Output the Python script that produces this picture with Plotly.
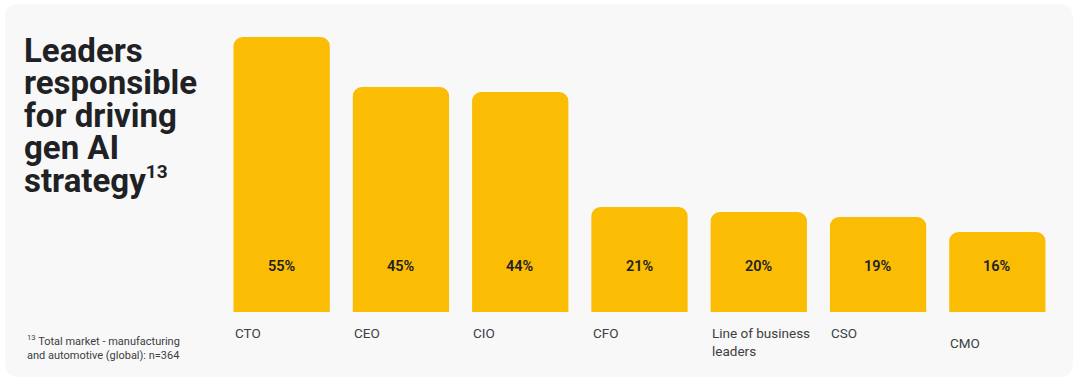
import plotly.graph_objects as go

categories = ["CTO", "CEO", "CIO", "CFO", "Line of business<br>leaders", "CSO", "CMO"]
values = [55, 45, 44, 21, 20, 19, 16]
value_labels = ["55%", "45%", "44%", "21%", "20%", "19%", "16%"]
title_lines = ["Leaders", "responsible", "for driving", "gen AI",
               "strategy<sup><span style='font-size:19px'>13</span></sup>"]
footnote = "<sup>13</sup> Total market - manufacturing<br>and automotive (global): n=364"

W, H = 1080, 384
L, R, T, B = 222, 23, 12, 72
PW, PH = W - L - R, H - T - B


def px(x):
    return (x - L) / PW


def py(y):
    return (H - B - y) / PH


YELLOW = "#FBBC04"
x_idx = list(range(len(categories)))

fig = go.Figure()
fig.add_trace(go.Bar(
    x=x_idx, y=values, marker=dict(color=YELLOW, line=dict(width=0)),
    hoverinfo="skip", showlegend=False,
))

annotations = []
# value labels placed at a fixed height inside each bar
label_level = 9.2
for i, v in enumerate(value_labels):
    annotations.append(dict(
        x=i, y=label_level, xref="x", yref="y", text=v, showarrow=False,
        font=dict(family="Roboto", size=14.5, color="#202124", weight=600),
        xanchor="center", yanchor="middle",
    ))

# category labels, left aligned with bar edges
for i, c in enumerate(categories):
    shift = -11
    if c == "CMO":
        shift = -21
    annotations.append(dict(
        x=i, y=0, xref="x", yref="paper", text=c, showarrow=False,
        font=dict(family="Roboto", size=13.5, color="#3c4043"),
        xanchor="left", yanchor="top", xshift=-49, yshift=shift, align="left",
    ))

# title lines
first_mid = 50
pitch = 32.5
for k, line in enumerate(title_lines):
    annotations.append(dict(
        x=px(22), y=py(first_mid + k * pitch), xref="paper", yref="paper",
        text=line, showarrow=False,
        font=dict(family="Roboto", size=33, color="#202124", weight=700),
        xanchor="left", yanchor="middle", align="left",
    ))

annotations.append(dict(
    x=px(25), y=py(347), xref="paper", yref="paper", text=footnote,
    showarrow=False, font=dict(family="Roboto", size=11, color="#3c4043"),
    xanchor="left", yanchor="middle", align="left",
))

# rounded background panel
x0, x1, y0, y1, rad = 5, 1073, 4, 377, 14
rx, ry = rad / PW, rad / PH
X0, X1, Y0, Y1 = px(x0), px(x1), py(y1), py(y0)
path = (f"M {X0+rx},{Y0} L {X1-rx},{Y0} Q {X1},{Y0} {X1},{Y0+ry} "
        f"L {X1},{Y1-ry} Q {X1},{Y1} {X1-rx},{Y1} L {X0+rx},{Y1} "
        f"Q {X0},{Y1} {X0},{Y1-ry} L {X0},{Y0+ry} Q {X0},{Y0} {X0+rx},{Y0} Z")

fig.update_layout(
    width=W, height=H,
    margin=dict(l=L, r=R, t=T, b=B, pad=0),
    paper_bgcolor="white", plot_bgcolor="rgba(0,0,0,0)",
    bargap=0.193, barcornerradius=9,
    xaxis=dict(range=[-0.5, len(categories) - 0.5], visible=False, fixedrange=True),
    yaxis=dict(range=[0, 60], visible=False, fixedrange=True),
    annotations=annotations,
    shapes=[dict(type="path", path=path, xref="paper", yref="paper",
                 fillcolor="#F8F8F8", line=dict(width=0), layer="below")],
    showlegend=False,
)

fig.write_html(
    "out.html",
    config={"displayModeBar": False},
    post_script="document.body.style.margin='0px';document.body.style.overflow='hidden';",
)
